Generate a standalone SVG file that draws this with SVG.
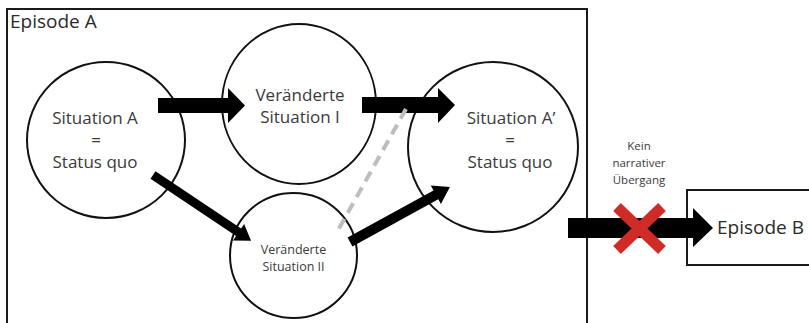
<svg xmlns="http://www.w3.org/2000/svg" width="809" height="323" viewBox="0 0 809 323">
  <style>
    .frame { fill: #ffffff; stroke: #1a1a1a; stroke-width: 2; }
    .node { fill: #ffffff; stroke: #111111; stroke-width: 2; }
    .t { font-family: "Open Sans", "Noto Sans", "DejaVu Sans", sans-serif; fill: #3a3a3a; text-anchor: middle; }
    .big { font-size: 17px; }
    .small { font-size: 12.5px; }
    .note { font-size: 11.5px; }
    .title { font-size: 19px; fill: #2a2a2a; text-anchor: start; }
    .block { fill: #000000; }
    .dash { fill: none; stroke: #bdbdbd; stroke-width: 4; stroke-dasharray: 11 7; }
    .cross { stroke: #d12b27; stroke-width: 11; }
  </style>

  <rect width="809" height="323" fill="#ffffff"/>

  <!-- Episode A frame -->
  <g id="episode-a">
    <rect class="frame" x="7" y="9" width="580" height="330"/>
    <text class="t title" x="10" y="28">Episode A</text>
  </g>

  <!-- Episode B frame -->
  <g id="episode-b">
    <rect class="frame" x="687" y="190" width="140" height="75"/>
    <text class="t title" x="717" y="234">Episode B</text>
  </g>

  <g id="situation-a">
    <ellipse class="node" cx="106" cy="140" rx="79" ry="78"/>
    <text class="t big" x="95" y="124">Situation A</text>
    <text class="t big" x="96" y="146">=</text>
    <text class="t big" x="95" y="168">Status quo</text>
  </g>

  <g id="situation-i">
    <ellipse class="node" cx="299" cy="104" rx="77" ry="80"/>
    <text class="t big" x="300" y="101">Veränderte</text>
    <text class="t big" x="300" y="123">Situation I</text>
  </g>

  <g id="situation-ii">
    <ellipse class="node" cx="293.5" cy="255.5" rx="63.5" ry="62.5"/>
    <text class="t small" x="293.5" y="254">Veränderte</text>
    <text class="t small" x="293.5" y="271">Situation II</text>
  </g>

  <g id="situation-a2">
    <ellipse class="node" cx="493" cy="147" rx="85" ry="85"/>
    <text class="t big" x="511" y="124">Situation A’</text>
    <text class="t big" x="510" y="146">=</text>
    <text class="t big" x="510" y="168">Status quo</text>
  </g>

  <g id="connectors">
    <!-- A to I -->
    <polygon class="block" points="158,98 228,98 228,88 245,105.5 228,123 228,113 158,113"/>
    <!-- I to A' -->
    <polygon class="block" points="362,97 438,97 438,88 455,105 438,123 438,113 362,113"/>
    <!-- A to II (diagonal) -->
    <g transform="translate(153,175) rotate(33.8)">
      <polygon class="block" points="0,-4.5 103,-4.5 103,-10 118,0 103,10 103,4.5 0,4.5"/>
    </g>
    <!-- II to A' (diagonal) -->
    <g transform="translate(350,242) rotate(-28.8)">
      <polygon class="block" points="0,-5 98,-5 98,-10.5 114,0 98,10.5 98,5 0,5"/>
    </g>
    <!-- I to II, dashed -->
    <line class="dash" x1="406" y1="109" x2="337" y2="232"/>
    <!-- A to B, crossed out -->
    <polygon class="block" points="568,218 693,218 693,208 713,228 693,247 693,238 568,238"/>
    <line class="cross" x1="617" y1="207" x2="662" y2="250"/>
    <line class="cross" x1="662" y1="207" x2="617" y2="250"/>
  </g>

  <g id="no-transition-label">
    <text class="t note" x="639" y="150">Kein</text>
    <text class="t note" x="639" y="167">narrativer</text>
    <text class="t note" x="639" y="184">Übergang</text>
  </g>
</svg>
